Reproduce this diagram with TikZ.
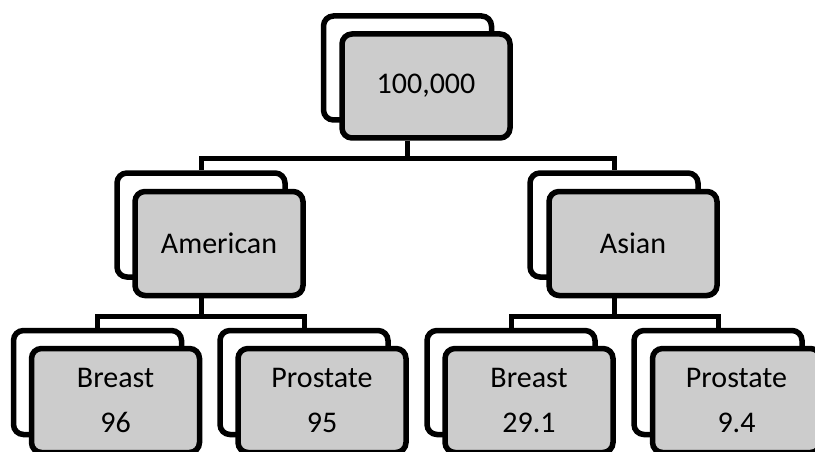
\documentclass[tikz,border=0pt]{standalone}
\usepackage{fontspec}
\setmainfont{Carlito}
\tikzset{
  back/.style={draw, line width=5.5pt, rounded corners=10pt, fill=white,
    minimum width=168pt, minimum height=104pt, inner sep=0pt},
  front/.style={back, fill=black!20, align=center,
    font=\fontsize{30}{45}\selectfont},
  link/.style={line width=5pt}
}
\begin{document}
\begin{tikzpicture}[x=1pt,y=-1pt]
        \useasboundingbox (0,0) rectangle (815,452);
        \clip (0,0) rectangle (815,452);

        \node[back](0b)at(407.5,68) {};
        \node[front](0)at(426,86) {100,000};

        \node[back](1b)at(201,225) {};
        \node[front](1)at(219,243.5) {American};
        \node[back](2b)at(614,225) {};
        \node[front](2)at(633,243.5) {Asian};

        \node[back](3b)at(97.5,382.5) {};
        \node[front](3)at(115.5,400.5) {Breast\\96};
        \node[back](4b)at(304,382.5) {};
        \node[front](4)at(322,400.5) {Prostate\\95};
        \node[back](5b)at(511,382.5) {};
        \node[front](5)at(529,400.5) {Breast\\29.1};
        \node[back](6b)at(718,382.5) {};
        \node[front](6)at(736.5,400.5) {Prostate\\9.4};

        \draw[link](0.south -| 0b) -- ++(0,18) coordinate(j0) -| (1b.north);
        \draw[link](j0) -| (2b.north);
        \draw[link](1.south -| 1b) -- ++(0,18) coordinate(j1) -| (3b.north);
        \draw[link](j1) -| (4b.north);
        \draw[link](2.south -| 2b) -- ++(0,18) coordinate(j2) -| (5b.north);
        \draw[link](j2) -| (6b.north);
    \end{tikzpicture}
\end{document}
